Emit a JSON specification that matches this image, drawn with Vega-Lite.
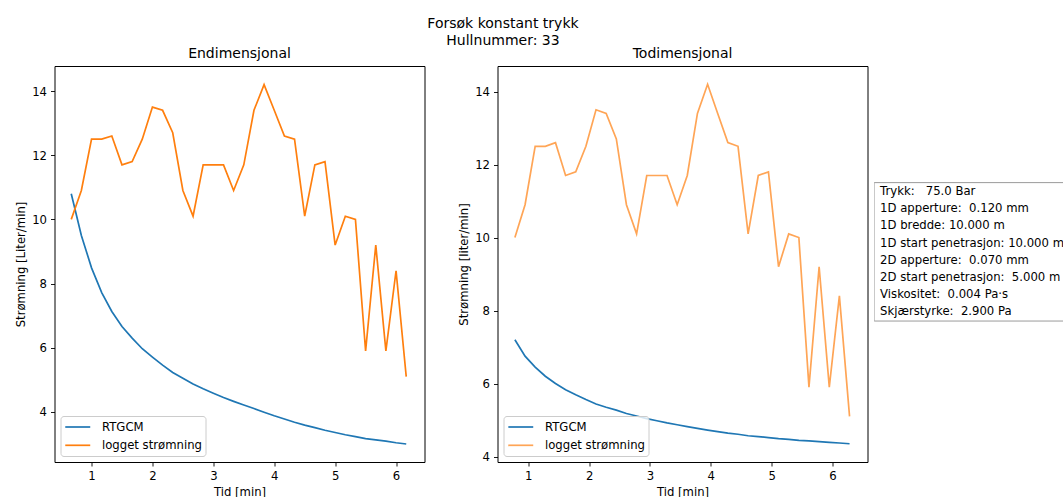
{
  "$schema": "https://vega.github.io/schema/vega-lite/v6.json",
  "background": "white",
  "padding": {"left": 14.5, "top": 16, "right": 0, "bottom": 0},
  "title": {
    "text": ["Forsøk konstant trykk", "Hullnummer: 33"],
    "font": "DejaVu Sans",
    "fontSize": 14,
    "fontWeight": "normal",
    "color": "black",
    "lineHeight": 17,
    "baseline": "top",
    "anchor": "middle",
    "offset": -1.3,
    "dx": -37
  },
  "datasets": {
    "serier": [
      {"panel": "1D", "serie": "RTGCM", "tid": 0.667, "verdi": 10.8},
      {"panel": "1D", "serie": "RTGCM", "tid": 0.833, "verdi": 9.5},
      {"panel": "1D", "serie": "RTGCM", "tid": 1.0, "verdi": 8.49},
      {"panel": "1D", "serie": "RTGCM", "tid": 1.167, "verdi": 7.72},
      {"panel": "1D", "serie": "RTGCM", "tid": 1.333, "verdi": 7.13},
      {"panel": "1D", "serie": "RTGCM", "tid": 1.5, "verdi": 6.66},
      {"panel": "1D", "serie": "RTGCM", "tid": 1.667, "verdi": 6.3},
      {"panel": "1D", "serie": "RTGCM", "tid": 1.833, "verdi": 5.97},
      {"panel": "1D", "serie": "RTGCM", "tid": 2.0, "verdi": 5.71},
      {"panel": "1D", "serie": "RTGCM", "tid": 2.167, "verdi": 5.46},
      {"panel": "1D", "serie": "RTGCM", "tid": 2.333, "verdi": 5.23},
      {"panel": "1D", "serie": "RTGCM", "tid": 2.5, "verdi": 5.05},
      {"panel": "1D", "serie": "RTGCM", "tid": 2.667, "verdi": 4.87},
      {"panel": "1D", "serie": "RTGCM", "tid": 2.833, "verdi": 4.72},
      {"panel": "1D", "serie": "RTGCM", "tid": 3.0, "verdi": 4.585},
      {"panel": "1D", "serie": "RTGCM", "tid": 3.167, "verdi": 4.45},
      {"panel": "1D", "serie": "RTGCM", "tid": 3.333, "verdi": 4.33},
      {"panel": "1D", "serie": "RTGCM", "tid": 3.5, "verdi": 4.215},
      {"panel": "1D", "serie": "RTGCM", "tid": 3.667, "verdi": 4.105},
      {"panel": "1D", "serie": "RTGCM", "tid": 3.833, "verdi": 3.99},
      {"panel": "1D", "serie": "RTGCM", "tid": 4.0, "verdi": 3.88},
      {"panel": "1D", "serie": "RTGCM", "tid": 4.167, "verdi": 3.78},
      {"panel": "1D", "serie": "RTGCM", "tid": 4.333, "verdi": 3.68},
      {"panel": "1D", "serie": "RTGCM", "tid": 4.5, "verdi": 3.59},
      {"panel": "1D", "serie": "RTGCM", "tid": 4.667, "verdi": 3.51},
      {"panel": "1D", "serie": "RTGCM", "tid": 4.833, "verdi": 3.43},
      {"panel": "1D", "serie": "RTGCM", "tid": 5.0, "verdi": 3.36},
      {"panel": "1D", "serie": "RTGCM", "tid": 5.167, "verdi": 3.29},
      {"panel": "1D", "serie": "RTGCM", "tid": 5.333, "verdi": 3.23},
      {"panel": "1D", "serie": "RTGCM", "tid": 5.5, "verdi": 3.17},
      {"panel": "1D", "serie": "RTGCM", "tid": 5.667, "verdi": 3.13},
      {"panel": "1D", "serie": "RTGCM", "tid": 5.833, "verdi": 3.09},
      {"panel": "1D", "serie": "RTGCM", "tid": 6.0, "verdi": 3.04},
      {"panel": "1D", "serie": "RTGCM", "tid": 6.167, "verdi": 3.0},
      {"panel": "1D", "serie": "logget strømning", "tid": 0.667, "verdi": 10.0},
      {"panel": "1D", "serie": "logget strømning", "tid": 0.833, "verdi": 10.9},
      {"panel": "1D", "serie": "logget strømning", "tid": 1.0, "verdi": 12.5},
      {"panel": "1D", "serie": "logget strømning", "tid": 1.167, "verdi": 12.5},
      {"panel": "1D", "serie": "logget strømning", "tid": 1.333, "verdi": 12.6},
      {"panel": "1D", "serie": "logget strømning", "tid": 1.5, "verdi": 11.7},
      {"panel": "1D", "serie": "logget strømning", "tid": 1.667, "verdi": 11.8},
      {"panel": "1D", "serie": "logget strømning", "tid": 1.833, "verdi": 12.5},
      {"panel": "1D", "serie": "logget strømning", "tid": 2.0, "verdi": 13.5},
      {"panel": "1D", "serie": "logget strømning", "tid": 2.167, "verdi": 13.4},
      {"panel": "1D", "serie": "logget strømning", "tid": 2.333, "verdi": 12.7},
      {"panel": "1D", "serie": "logget strømning", "tid": 2.5, "verdi": 10.9},
      {"panel": "1D", "serie": "logget strømning", "tid": 2.667, "verdi": 10.1},
      {"panel": "1D", "serie": "logget strømning", "tid": 2.833, "verdi": 11.7},
      {"panel": "1D", "serie": "logget strømning", "tid": 3.0, "verdi": 11.7},
      {"panel": "1D", "serie": "logget strømning", "tid": 3.167, "verdi": 11.7},
      {"panel": "1D", "serie": "logget strømning", "tid": 3.333, "verdi": 10.9},
      {"panel": "1D", "serie": "logget strømning", "tid": 3.5, "verdi": 11.7},
      {"panel": "1D", "serie": "logget strømning", "tid": 3.667, "verdi": 13.4},
      {"panel": "1D", "serie": "logget strømning", "tid": 3.833, "verdi": 14.2},
      {"panel": "1D", "serie": "logget strømning", "tid": 4.0, "verdi": 13.4},
      {"panel": "1D", "serie": "logget strømning", "tid": 4.167, "verdi": 12.6},
      {"panel": "1D", "serie": "logget strømning", "tid": 4.333, "verdi": 12.5},
      {"panel": "1D", "serie": "logget strømning", "tid": 4.5, "verdi": 10.1},
      {"panel": "1D", "serie": "logget strømning", "tid": 4.667, "verdi": 11.7},
      {"panel": "1D", "serie": "logget strømning", "tid": 4.833, "verdi": 11.8},
      {"panel": "1D", "serie": "logget strømning", "tid": 5.0, "verdi": 9.2},
      {"panel": "1D", "serie": "logget strømning", "tid": 5.167, "verdi": 10.1},
      {"panel": "1D", "serie": "logget strømning", "tid": 5.333, "verdi": 10.0},
      {"panel": "1D", "serie": "logget strømning", "tid": 5.5, "verdi": 5.9},
      {"panel": "1D", "serie": "logget strømning", "tid": 5.667, "verdi": 9.2},
      {"panel": "1D", "serie": "logget strømning", "tid": 5.833, "verdi": 5.9},
      {"panel": "1D", "serie": "logget strømning", "tid": 6.0, "verdi": 8.4},
      {"panel": "1D", "serie": "logget strømning", "tid": 6.167, "verdi": 5.1},
      {"panel": "2D", "serie": "RTGCM", "tid": 0.78, "verdi": 7.2},
      {"panel": "2D", "serie": "RTGCM", "tid": 0.947, "verdi": 6.75},
      {"panel": "2D", "serie": "RTGCM", "tid": 1.113, "verdi": 6.45},
      {"panel": "2D", "serie": "RTGCM", "tid": 1.28, "verdi": 6.2},
      {"panel": "2D", "serie": "RTGCM", "tid": 1.447, "verdi": 6.0},
      {"panel": "2D", "serie": "RTGCM", "tid": 1.613, "verdi": 5.83},
      {"panel": "2D", "serie": "RTGCM", "tid": 1.78, "verdi": 5.69},
      {"panel": "2D", "serie": "RTGCM", "tid": 1.947, "verdi": 5.56},
      {"panel": "2D", "serie": "RTGCM", "tid": 2.113, "verdi": 5.44},
      {"panel": "2D", "serie": "RTGCM", "tid": 2.28, "verdi": 5.35},
      {"panel": "2D", "serie": "RTGCM", "tid": 2.447, "verdi": 5.27},
      {"panel": "2D", "serie": "RTGCM", "tid": 2.613, "verdi": 5.18},
      {"panel": "2D", "serie": "RTGCM", "tid": 2.78, "verdi": 5.11},
      {"panel": "2D", "serie": "RTGCM", "tid": 2.947, "verdi": 5.04},
      {"panel": "2D", "serie": "RTGCM", "tid": 3.113, "verdi": 4.98},
      {"panel": "2D", "serie": "RTGCM", "tid": 3.28, "verdi": 4.92},
      {"panel": "2D", "serie": "RTGCM", "tid": 3.447, "verdi": 4.87},
      {"panel": "2D", "serie": "RTGCM", "tid": 3.613, "verdi": 4.82},
      {"panel": "2D", "serie": "RTGCM", "tid": 3.78, "verdi": 4.77},
      {"panel": "2D", "serie": "RTGCM", "tid": 3.947, "verdi": 4.725},
      {"panel": "2D", "serie": "RTGCM", "tid": 4.113, "verdi": 4.68},
      {"panel": "2D", "serie": "RTGCM", "tid": 4.28, "verdi": 4.64},
      {"panel": "2D", "serie": "RTGCM", "tid": 4.447, "verdi": 4.61},
      {"panel": "2D", "serie": "RTGCM", "tid": 4.613, "verdi": 4.57},
      {"panel": "2D", "serie": "RTGCM", "tid": 4.78, "verdi": 4.545},
      {"panel": "2D", "serie": "RTGCM", "tid": 4.947, "verdi": 4.52},
      {"panel": "2D", "serie": "RTGCM", "tid": 5.113, "verdi": 4.49},
      {"panel": "2D", "serie": "RTGCM", "tid": 5.28, "verdi": 4.47},
      {"panel": "2D", "serie": "RTGCM", "tid": 5.447, "verdi": 4.445},
      {"panel": "2D", "serie": "RTGCM", "tid": 5.613, "verdi": 4.43},
      {"panel": "2D", "serie": "RTGCM", "tid": 5.78, "verdi": 4.41},
      {"panel": "2D", "serie": "RTGCM", "tid": 5.947, "verdi": 4.39},
      {"panel": "2D", "serie": "RTGCM", "tid": 6.113, "verdi": 4.37},
      {"panel": "2D", "serie": "RTGCM", "tid": 6.28, "verdi": 4.35},
      {"panel": "2D", "serie": "logget strømning", "tid": 0.78, "verdi": 10.0},
      {"panel": "2D", "serie": "logget strømning", "tid": 0.947, "verdi": 10.9},
      {"panel": "2D", "serie": "logget strømning", "tid": 1.113, "verdi": 12.5},
      {"panel": "2D", "serie": "logget strømning", "tid": 1.28, "verdi": 12.5},
      {"panel": "2D", "serie": "logget strømning", "tid": 1.447, "verdi": 12.6},
      {"panel": "2D", "serie": "logget strømning", "tid": 1.613, "verdi": 11.7},
      {"panel": "2D", "serie": "logget strømning", "tid": 1.78, "verdi": 11.8},
      {"panel": "2D", "serie": "logget strømning", "tid": 1.947, "verdi": 12.5},
      {"panel": "2D", "serie": "logget strømning", "tid": 2.113, "verdi": 13.5},
      {"panel": "2D", "serie": "logget strømning", "tid": 2.28, "verdi": 13.4},
      {"panel": "2D", "serie": "logget strømning", "tid": 2.447, "verdi": 12.7},
      {"panel": "2D", "serie": "logget strømning", "tid": 2.613, "verdi": 10.9},
      {"panel": "2D", "serie": "logget strømning", "tid": 2.78, "verdi": 10.1},
      {"panel": "2D", "serie": "logget strømning", "tid": 2.947, "verdi": 11.7},
      {"panel": "2D", "serie": "logget strømning", "tid": 3.113, "verdi": 11.7},
      {"panel": "2D", "serie": "logget strømning", "tid": 3.28, "verdi": 11.7},
      {"panel": "2D", "serie": "logget strømning", "tid": 3.447, "verdi": 10.9},
      {"panel": "2D", "serie": "logget strømning", "tid": 3.613, "verdi": 11.7},
      {"panel": "2D", "serie": "logget strømning", "tid": 3.78, "verdi": 13.4},
      {"panel": "2D", "serie": "logget strømning", "tid": 3.947, "verdi": 14.2},
      {"panel": "2D", "serie": "logget strømning", "tid": 4.113, "verdi": 13.4},
      {"panel": "2D", "serie": "logget strømning", "tid": 4.28, "verdi": 12.6},
      {"panel": "2D", "serie": "logget strømning", "tid": 4.447, "verdi": 12.5},
      {"panel": "2D", "serie": "logget strømning", "tid": 4.613, "verdi": 10.1},
      {"panel": "2D", "serie": "logget strømning", "tid": 4.78, "verdi": 11.7},
      {"panel": "2D", "serie": "logget strømning", "tid": 4.947, "verdi": 11.8},
      {"panel": "2D", "serie": "logget strømning", "tid": 5.113, "verdi": 9.2},
      {"panel": "2D", "serie": "logget strømning", "tid": 5.28, "verdi": 10.1},
      {"panel": "2D", "serie": "logget strømning", "tid": 5.447, "verdi": 10.0},
      {"panel": "2D", "serie": "logget strømning", "tid": 5.613, "verdi": 5.9},
      {"panel": "2D", "serie": "logget strømning", "tid": 5.78, "verdi": 9.2},
      {"panel": "2D", "serie": "logget strømning", "tid": 5.947, "verdi": 5.9},
      {"panel": "2D", "serie": "logget strømning", "tid": 6.113, "verdi": 8.4},
      {"panel": "2D", "serie": "logget strømning", "tid": 6.28, "verdi": 5.1}
    ],
    "parametre": [
      {"k": 0, "tekst": "Trykk:\u00a0\u00a0 75.0 Bar"},
      {"k": 1, "tekst": "1D apperture:\u00a0 0.120 mm"},
      {"k": 2, "tekst": "1D bredde: 10.000 m"},
      {"k": 3, "tekst": "1D start penetrasjon: 10.000 m"},
      {"k": 4, "tekst": "2D apperture:\u00a0 0.070 mm"},
      {"k": 5, "tekst": "2D start penetrasjon:\u00a0 5.000 m"},
      {"k": 6, "tekst": "Viskositet:\u00a0 0.004 Pa·s"},
      {"k": 7, "tekst": "Skjærstyrke:\u00a0 2.900 Pa"}
    ]
  },
  "hconcat": [
    {
      "hconcat": [
        {
          "width": 370,
          "height": 396,
          "title": {"text": "Endimensjonal"},
          "data": {"name": "serier"},
          "transform": [{"filter": "datum.panel === '1D'"}],
          "mark": {"type": "line", "strokeWidth": 1.7, "clip": true},
          "encoding": {
            "x": {"field": "tid", "type": "quantitative", "scale": {"domain": [0.392, 6.467], "nice": false, "zero": false}, "axis": {"title": "Tid [min]", "values": [1, 2, 3, 4, 5, 6]}},
            "y": {"field": "verdi", "type": "quantitative", "scale": {"domain": [2.44, 14.78], "nice": false, "zero": false}, "axis": {"title": "Strømning [Liter/min]", "values": [4, 6, 8, 10, 12, 14]}},
            "color": {"field": "serie", "type": "nominal", "scale": {"domain": ["RTGCM", "logget strømning"], "range": ["#1f77b4", "#ff7f0e"]}, "legend": {"title": null}}
          }
        },
        {
          "width": 370,
          "height": 396,
          "title": {"text": "Todimensjonal"},
          "data": {"name": "serier"},
          "transform": [{"filter": "datum.panel === '2D'"}],
          "mark": {"type": "line", "strokeWidth": 1.7, "clip": true},
          "encoding": {
            "x": {"field": "tid", "type": "quantitative", "scale": {"domain": [0.494, 6.575], "nice": false, "zero": false}, "axis": {"title": "Tid [min]", "values": [1, 2, 3, 4, 5, 6]}},
            "y": {"field": "verdi", "type": "quantitative", "scale": {"domain": [3.85, 14.7], "nice": false, "zero": false}, "axis": {"title": "Strømning [liter/min]", "values": [4, 6, 8, 10, 12, 14]}},
            "color": {"field": "serie", "type": "nominal", "scale": {"domain": ["RTGCM", "logget strømning"], "range": ["#1f77b4", "#ffa556"]}, "legend": {"title": null}}
          }
        }
      ],
      "spacing": 73,
      "bounds": "flush",
      "resolve": {"scale": {"color": "independent"}, "legend": {"color": "independent"}}
    },
    {
      "width": 190.7,
      "height": 396,
      "view": {"stroke": null},
      "data": {"name": "parametre"},
      "layer": [
        {
          "mark": {"type": "rect", "fill": "white", "stroke": "#9a9a9a", "strokeWidth": 1, "yOffset": -12.4, "y2Offset": 5.6, "x2Offset": 6, "clip": true},
          "encoding": {
            "y": {"aggregate": "min", "field": "k", "type": "quantitative", "scale": {"domain": [-7.5, 15.52], "reverse": true, "nice": false, "zero": false}, "axis": null},
            "y2": {"aggregate": "max", "field": "k"}
          }
        },
        {
          "mark": {"type": "text", "align": "left", "baseline": "alphabetic", "dx": 6, "font": "DejaVu Sans", "fontSize": 11.67, "color": "black", "clip": true},
          "encoding": {
            "x": {"datum": 0, "type": "quantitative", "scale": {"domain": [0, 1], "nice": false}, "axis": null},
            "y": {"field": "k", "type": "quantitative", "scale": {"domain": [-7.5, 15.52], "reverse": true, "nice": false, "zero": false}, "axis": null},
            "text": {"field": "tekst"}
          }
        }
      ]
    }
  ],
  "spacing": 5.6,
  "bounds": "full",
  "resolve": {"scale": {"color": "independent"}, "legend": {"color": "independent"}},
  "config": {
    "font": "DejaVu Sans",
    "view": {"stroke": "black", "strokeWidth": 1},
    "axis": {
      "domain": false,
      "grid": false,
      "ticks": true,
      "tickColor": "black",
      "tickSize": 4,
      "tickWidth": 0.9,
      "labelColor": "black",
      "labelFont": "DejaVu Sans",
      "labelFontSize": 11.67,
      "labelPadding": 4,
      "titleColor": "black",
      "titleFont": "DejaVu Sans",
      "titleFontSize": 11.67,
      "titleFontWeight": "normal",
      "titlePadding": 5
    },
    "title": {
      "font": "DejaVu Sans",
      "fontSize": 14,
      "fontWeight": "normal",
      "color": "black",
      "baseline": "alphabetic",
      "offset": 5,
      "anchor": "middle"
    },
    "legend": {
      "orient": "bottom-left",
      "offset": 6,
      "symbolType": "M-1,0L3,0",
      "symbolSize": 156,
      "symbolStrokeWidth": 1.7,
      "labelOffset": 23,
      "labelFont": "DejaVu Sans",
      "labelFontSize": 11.67,
      "labelColor": "black",
      "fillColor": "rgba(255,255,255,0.8)",
      "strokeColor": "#cccccc",
      "cornerRadius": 3,
      "padding": 3.5,
      "rowPadding": 3.3
    }
  }
}
